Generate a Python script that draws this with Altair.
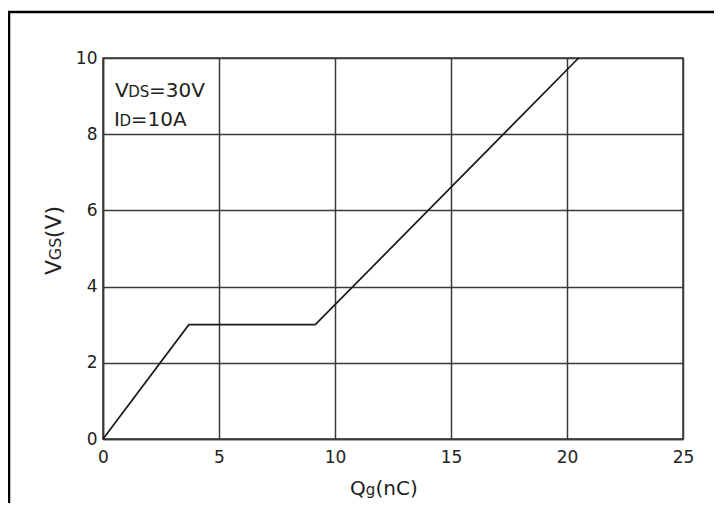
import altair as alt
import pandas as pd

# ---- data ----
qg = [0.0, 3.7, 9.15, 20.5]          # gate charge (nC)
vgs = [0.0, 3.0, 3.0, 10.0]          # gate-source voltage (V)
x_ticks = [0, 5, 10, 15, 20, 25]
y_ticks = [0, 2, 4, 6, 8, 10]
x_domain = [0, 25]
y_domain = [0, 10]

FONT = "DejaVu Sans"
TXT = "#222222"
GRID = "#3a3a3a"
W, H = 580, 381

df = pd.DataFrame({"qg": qg, "vgs": vgs})
xs = alt.Scale(domain=x_domain, nice=False)
ys = alt.Scale(domain=y_domain, nice=False)

line = alt.Chart(df).mark_line(color="#1a1a1a", strokeWidth=1.7).encode(
    x=alt.X("qg:Q", scale=xs,
            axis=alt.Axis(values=x_ticks, title=None, labelFlush=False,
                          labelPadding=10, ticks=False, format="d")),
    y=alt.Y("vgs:Q", scale=ys,
            axis=alt.Axis(values=y_ticks, title=None, labelPadding=6,
                          ticks=False, format="d")),
)


def piece(text, x, y, size, angle=0, align="left"):
    d = pd.DataFrame({"t": [text]})
    return alt.Chart(d).mark_text(
        align=align, baseline="alphabetic", font=FONT, fontSize=size,
        color=TXT, angle=angle,
    ).encode(x=alt.value(x), y=alt.value(y), text="t:N")


layers = [line]

# annotation (pixel offsets relative to plot origin)
layers += [
    piece("V", 12, 39, 20), piece("DS", 25.2, 39, 15), piece("=30V", 46.0, 39, 20),
    piece("I", 11, 68, 20), piece("D", 16.5, 68, 15), piece("=10A", 27.8, 68, 20),
]

# x title  Qg(nC)
layers += [
    piece("Q", 247, 437, 20), piece("g", 262.7, 437, 15), piece("(nC)", 272.5, 437, 20),
]

# y title  VGS(V), rotated, text runs upward
layers += [
    piece("V", -42, 217, 22, angle=270),
    piece("GS", -42, 202.2, 16, angle=270),
    piece("(V)", -42, 180.2, 22, angle=270),
]

# outer frame
frame = alt.Chart(pd.DataFrame({"a": [0]})).mark_rect(
    fill="transparent", stroke="#000000", strokeWidth=2.5
).encode(x=alt.value(-94), x2=alt.value(760), y=alt.value(-46), y2=alt.value(600))
layers.append(frame)

chart = alt.layer(*layers).properties(
    width=W, height=H,
    autosize=alt.AutoSizeParams(type="none"),
    padding={"left": 95, "top": 50, "right": 31, "bottom": 64},
).configure_view(
    stroke=GRID, strokeWidth=1.5
).configure_axis(
    grid=True, gridColor=GRID, gridWidth=1.5, gridOpacity=1,
    domainColor=GRID, domainWidth=1.5,
    labelFont=FONT, labelFontSize=17, labelColor=TXT,
)

chart.save("out.html", embed_options={"renderer": "svg", "actions": False})
